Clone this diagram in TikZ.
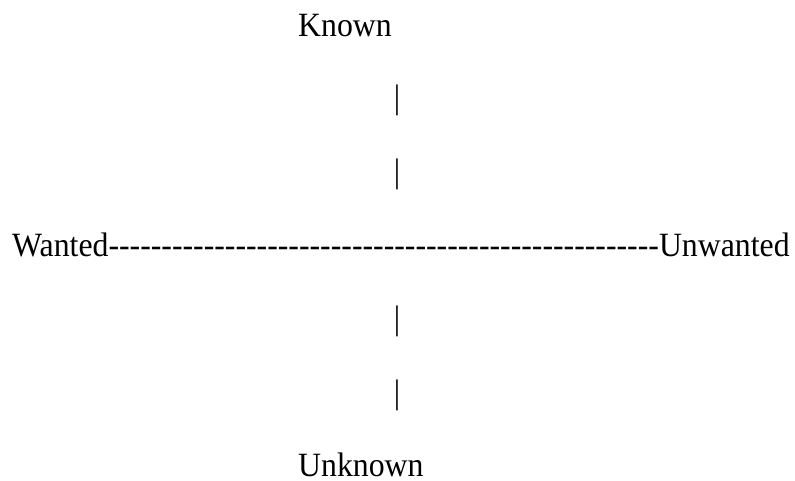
\documentclass[tikz,border=0pt]{standalone}
\usepackage{fontspec}
\setmainfont{Liberation Serif}[FakeStretch=0.935, Ligatures=TeXOff]
\begin{document}
\begin{tikzpicture}[x=1pt,y=-1pt,
  lbl/.style={inner sep=0pt, font=\fontsize{34}{40}\selectfont},
  bar/.style={inner sep=0pt, font=\fontsize{34}{40}\selectfont}]
\useasboundingbox (0,0) rectangle (795,481);
\node[lbl, anchor=base west] (known) at (298,37) {Known};
\node[lbl, anchor=base west] (axis) at (12,256) {Wanted----------------------------------------------------Unwanted};
\node[lbl, anchor=base west] (unknown) at (298,476) {Unknown};
\node[bar] (b1) at (397,100.5) {|};
\node[bar] (b2) at (397,174.5) {|};
\node[bar] (b3) at (397,321.5) {|};
\node[bar] (b4) at (397,395.5) {|};
\end{tikzpicture}
\end{document}
